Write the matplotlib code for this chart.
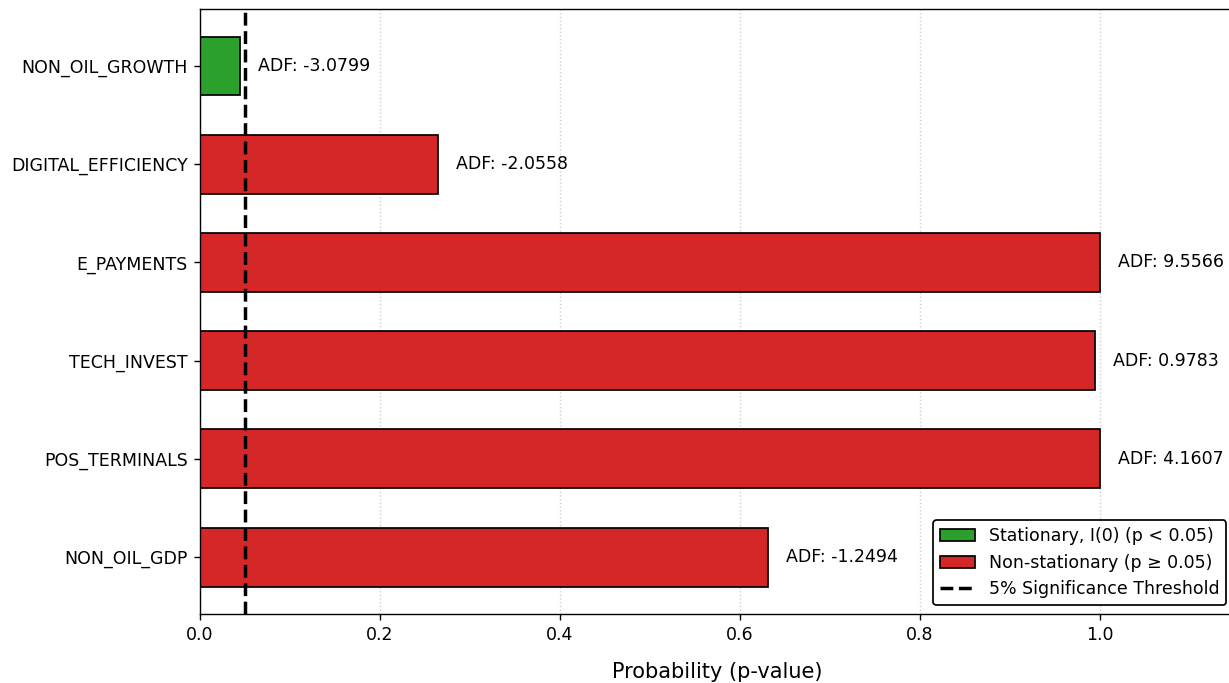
import matplotlib.pyplot as plt
from matplotlib.patches import Patch
from matplotlib.lines import Line2D

variables = ['NON_OIL_GDP', 'POS_TERMINALS', 'TECH_INVEST',
             'E_PAYMENTS', 'DIGITAL_EFFICIENCY', 'NON_OIL_GROWTH']
p_values = [0.631, 1.0, 0.9944, 1.0, 0.264, 0.0444]
adf_stats = [-1.2494, 4.1607, 0.9783, 9.5566, -2.0558, -3.0799]
threshold = 0.05

colors = ['#2ca02c' if p < threshold else '#d62728' for p in p_values]

W, H = 1229, 683
fig = plt.figure(figsize=(W / 125, H / 125), dpi=125)
ax = fig.add_axes([200 / W, 69 / H, 1035 / W, 605 / H])

ax.barh(variables, p_values, height=0.6, color=colors, edgecolor='black')
ax.axvline(threshold, color='black', linestyle='--', linewidth=2)

for i, (p, s) in enumerate(zip(p_values, adf_stats)):
    ax.text(p + 0.02, i, f'ADF: {s:.4f}', va='center', fontsize=10)

ax.set_xlim(0, 1.15)
ax.set_xlabel('Probability (p-value)', fontsize=12, labelpad=10)
ax.grid(axis='x', linestyle=':', alpha=0.6)
ax.set_axisbelow(True)

handles = [Patch(facecolor='#2ca02c', edgecolor='black', label='Stationary, I(0) (p < 0.05)'),
           Patch(facecolor='#d62728', edgecolor='black', label='Non-stationary (p \u2265 0.05)'),
           Line2D([0], [0], color='black', linestyle='--', linewidth=2, label='5% Significance Threshold')]
ax.legend(handles=handles, loc='lower right', framealpha=1, edgecolor='black')

fig.savefig('out.png', dpi=125)
